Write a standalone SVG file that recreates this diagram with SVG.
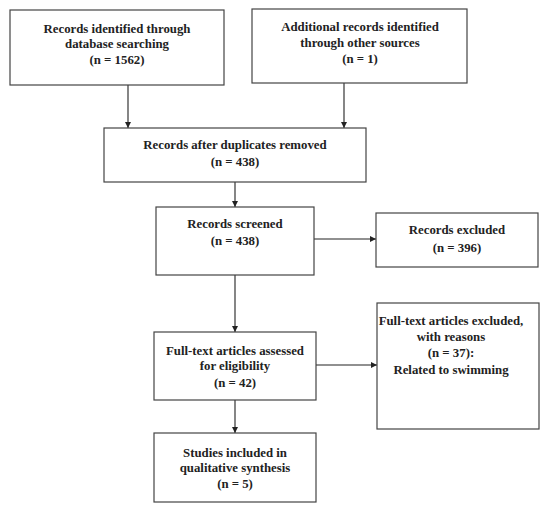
<svg xmlns="http://www.w3.org/2000/svg" width="550" height="510" viewBox="0 0 550 510">
<style>
.b{fill:#fff;stroke:#444;stroke-width:1.2}
text{font-family:"Liberation Serif","Times New Roman",serif;font-weight:bold;font-size:12.8px;fill:#222;text-anchor:middle}
.c{stroke:#222;stroke-width:1.1;fill:none;marker-end:url(#a)}
</style>
<defs>
<marker id="a" viewBox="0 0 8 8" refX="8" refY="4" markerWidth="6" markerHeight="6" markerUnits="userSpaceOnUse" orient="auto">
<path d="M0,0L8,4L0,8z" fill="#222"/>
</marker>
</defs>
<rect width="550" height="510" fill="#fff"/>
<g id="connectors">
<line class="c" x1="128" y1="85" x2="128" y2="128"/>
<line class="c" x1="344" y1="83" x2="344" y2="128"/>
<line class="c" x1="235" y1="182" x2="235" y2="207"/>
<line class="c" x1="314" y1="239" x2="376" y2="239"/>
<line class="c" x1="235" y1="275" x2="235" y2="332"/>
<line class="c" x1="316" y1="365" x2="377" y2="365"/>
<line class="c" x1="235" y1="400" x2="235" y2="433"/>
</g>
<g id="n1"><rect class="b" x="10" y="10" width="214" height="75"/>
<text x="117" y="33">Records identified through</text>
<text x="117" y="48">database searching</text>
<text x="117" y="64">(n = 1562)</text></g>
<g id="n2"><rect class="b" x="252" y="9" width="215" height="74"/>
<text x="360" y="31">Additional records identified</text>
<text x="360" y="47">through other sources</text>
<text x="360" y="63">(n = 1)</text></g>
<g id="n3"><rect class="b" x="104" y="128" width="262" height="54"/>
<text x="235" y="149">Records after duplicates removed</text>
<text x="235" y="166">(n = 438)</text></g>
<g id="n4"><rect class="b" x="156" y="207" width="158" height="68"/>
<text x="235" y="228">Records screened</text>
<text x="235" y="245">(n = 438)</text></g>
<g id="n5"><rect class="b" x="376" y="213" width="162" height="54"/>
<text x="457" y="234">Records excluded</text>
<text x="457" y="252">(n = 396)</text></g>
<g id="n6"><rect class="b" x="154" y="332" width="162" height="68"/>
<text x="235" y="355">Full-text articles assessed</text>
<text x="235" y="370">for eligibility</text>
<text x="235" y="387">(n = 42)</text></g>
<g id="n7"><rect class="b" x="377" y="303" width="162" height="126"/>
<text x="451" y="325">Full-text articles excluded,</text>
<text x="451" y="341">with reasons</text>
<text x="451" y="357">(n = 37):</text>
<text x="451" y="374">Related to swimming</text></g>
<g id="n8"><rect class="b" x="154" y="433" width="162" height="69"/>
<text x="235" y="457">Studies included in</text>
<text x="235" y="472">qualitative synthesis</text>
<text x="235" y="488">(n = 5)</text></g>
</svg>
